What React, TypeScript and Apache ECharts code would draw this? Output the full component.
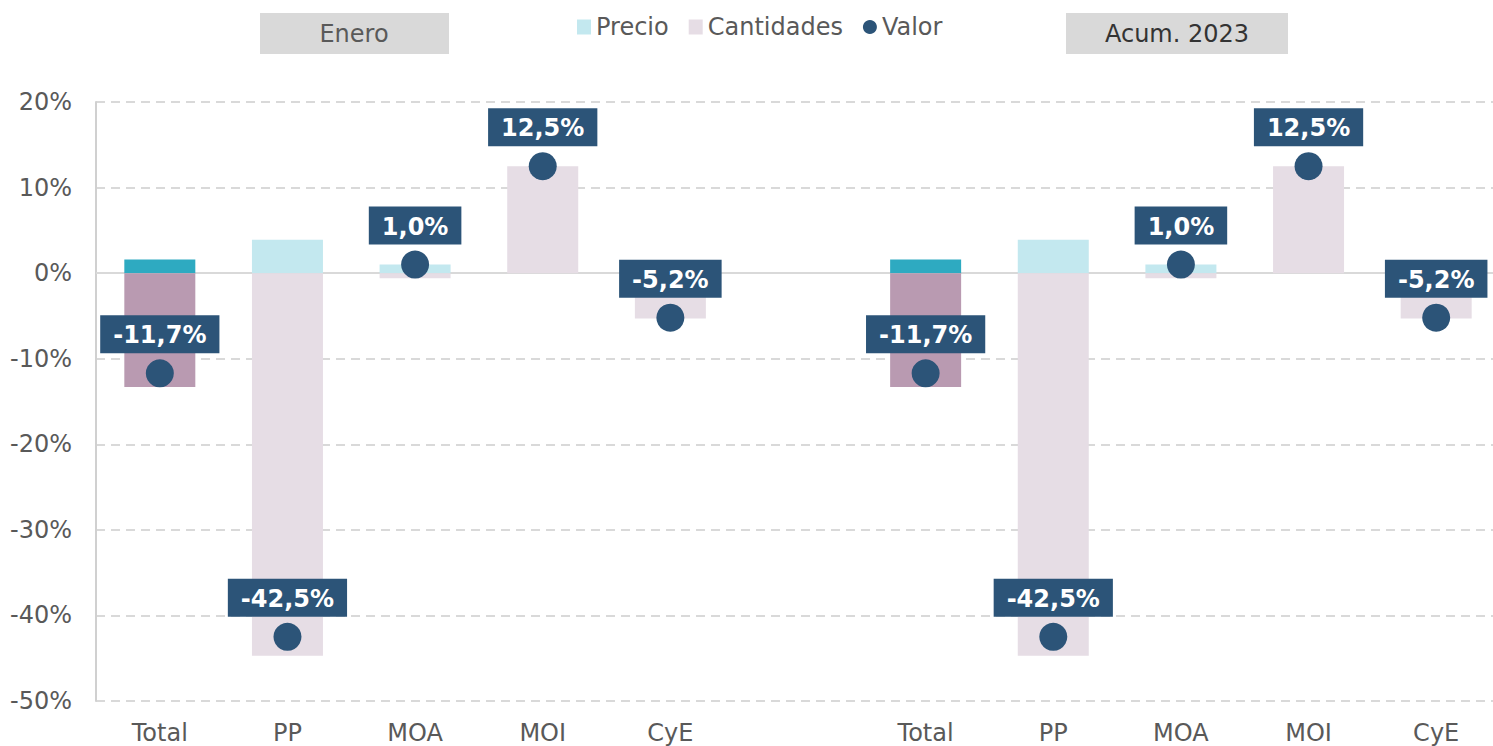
import React, { useEffect, useRef } from "react";
import * as echarts from "echarts";

const categories = ["Total", "PP", "MOA", "MOI", "CyE", "", "Total", "PP", "MOA", "MOI", "CyE"];
const precio: (number | string)[] = [1.6, 3.9, 1.0, 0, 0, "-", 1.6, 3.9, 1.0, 0, 0];
const cantidades: (number | string)[] = [-13.3, -44.7, -0.6, 12.5, -5.3, "-", -13.3, -44.7, -0.6, 12.5, -5.3];
const valor: (number | string)[] = [-11.7, -42.5, 1.0, 12.5, -5.2, "-", -11.7, -42.5, 1.0, 12.5, -5.2];
const totalIdx = [0, 6];
const yTicks = { min: -50, max: 20, interval: 10 };

const FONT = "DejaVu Sans, Verdana, sans-serif";

export default function App() {
  const ref = useRef<HTMLDivElement>(null);
  useEffect(() => {
    document.body.style.margin = "0";
    document.body.style.overflow = "hidden";
    const chart = echarts.init(ref.current!, null, { renderer: "svg" });
    const mk = (arr: (number | string)[], dark: string) =>
      arr.map((v, i) =>
        totalIdx.includes(i) ? { value: v, itemStyle: { color: dark } } : { value: v }
      );
    chart.setOption({
      animation: false,
      textStyle: { fontFamily: FONT },
      legend: {
        left: 572,
        top: 10,
        itemWidth: 14,
        itemHeight: 15,
        itemGap: 20,
        textStyle: { fontSize: 24, color: "#595959", fontFamily: FONT },
        data: [
          { name: "Precio", icon: "rect" },
          { name: "Cantidades", icon: "rect" },
          { name: "Valor", icon: "circle" },
        ],
      },
      grid: { left: 96, top: 102, right: 0, bottom: 45, containLabel: false },
      xAxis: {
        type: "category",
        data: categories,
        axisLine: { show: false },
        axisTick: { show: false },
        axisLabel: { fontSize: 24, lineHeight: 24, color: "#595959", margin: 20, fontFamily: FONT, interval: 0 },
      },
      yAxis: {
        type: "value",
        min: yTicks.min,
        max: yTicks.max,
        interval: yTicks.interval,
        axisLine: { show: true, lineStyle: { color: "#D0D0D0", width: 2 } },
        axisTick: { show: false },
        axisLabel: { formatter: "{value}%", fontSize: 24, color: "#595959", margin: 24, fontFamily: FONT },
        splitLine: { show: true, lineStyle: { color: "#D9D9D9", type: [9, 6], width: 2 } },
      },
      series: [
        {
          name: "Precio",
          type: "bar",
          stack: "a",
          barWidth: 71,
          itemStyle: { color: "#C3E8EF" },
          data: mk(precio, "#2EAAC1"),
          markLine: {
            silent: true,
            symbol: "none",
            label: { show: false },
            lineStyle: { color: "#D9D9D9", type: "solid", width: 2 },
            data: [{ yAxis: 0 }],
            z: 1,
          },
        },
        {
          name: "Cantidades",
          type: "bar",
          stack: "a",
          barWidth: 71,
          itemStyle: { color: "#E6DDE5" },
          data: mk(cantidades, "#B99AB1"),
        },
        {
          name: "Valor",
          type: "scatter",
          symbolSize: 28,
          z: 10,
          itemStyle: { color: "#2C5478", opacity: 1 },
          label: {
            show: true,
            position: "top",
            distance: 6,
            backgroundColor: "#2C5478",
            color: "#FFFFFF",
            fontWeight: "bold",
            fontSize: 24,
            lineHeight: 28,
            fontFamily: FONT,
            padding: [6, 13, 4, 13],
            formatter: (p: any) => p.value.toFixed(1).replace(".", ",") + "%",
          },
          data: valor,
        },
      ],
      graphic: [
        {
          type: "rect",
          shape: { x: 260, y: 13, width: 189, height: 41 },
          style: { fill: "#D9D9D9" },
        },
        {
          type: "text",
          x: 354,
          y: 34,
          style: {
            text: "Enero",
            fill: "#595959",
            fontSize: 24,
            fontFamily: FONT,
            align: "center",
            verticalAlign: "middle",
          },
        },
        {
          type: "rect",
          shape: { x: 1066, y: 13, width: 222, height: 41 },
          style: { fill: "#D9D9D9" },
        },
        {
          type: "text",
          x: 1177,
          y: 34,
          style: {
            text: "Acum. 2023",
            fill: "#333333",
            fontSize: 24,
            fontFamily: FONT,
            align: "center",
            verticalAlign: "middle",
          },
        },
      ],
    });
    return () => chart.dispose();
  }, []);
  return <div ref={ref} style={{ width: 1500, height: 746 }} />;
}
